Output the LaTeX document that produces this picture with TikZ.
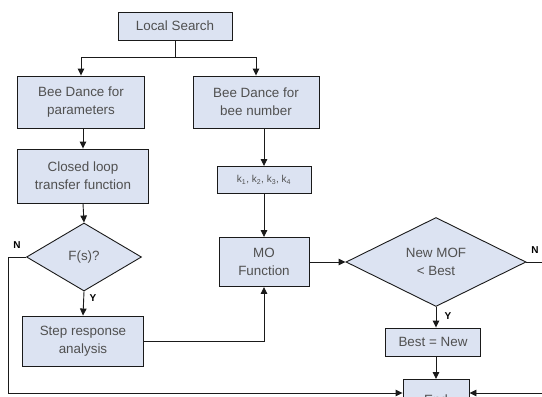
\documentclass[tikz,border=0pt]{standalone}
\usepackage{fontspec}
\setmainfont{Liberation Sans}
\usetikzlibrary{arrows.meta,shapes.geometric}
\definecolor{boxfill}{HTML}{DCE3F2}
\definecolor{txt}{HTML}{505050}
\definecolor{edge}{HTML}{1A1A1A}
\tikzset{
  x=1pt,y=-1pt,
  box/.style={draw=edge,fill=boxfill,line width=0.9pt,align=center,inner sep=0pt,
    text=txt,font=\fontsize{13.4}{18}\selectfont},
  dia/.style={draw=edge,fill=boxfill,line width=0.9pt,diamond,align=center,inner sep=0pt,
    text=txt,font=\fontsize{13.4}{18}\selectfont},
  conn/.style={draw=edge,line width=0.9pt,-{Triangle[length=7pt,width=6.5pt]}},
  line/.style={draw=edge,line width=0.9pt},
  lbl/.style={font=\bfseries\fontsize{10}{12}\selectfont,text=black,inner sep=0pt}
}
\begin{document}
\begin{tikzpicture}
\useasboundingbox (0,0) rectangle (542,397);
\clip (0,0) rectangle (542,397);
\node[box,minimum width=114pt,minimum height=28pt] (ls) at (175,26) {Local Search};
\node[box,minimum width=127pt,minimum height=52pt] (bdp) at (81,102) {Bee Dance for\\parameters};
\node[box,minimum width=126pt,minimum height=52pt] (bdb) at (256,102) {Bee Dance for\\bee number};
\node[box,minimum width=131pt,minimum height=54pt] (cl) at (83,176) {Closed loop\\transfer function};
\node[box,minimum width=94pt,minimum height=27pt,font=\fontsize{10}{12}\selectfont] (kk) at (264,180) {k\textsubscript{1}, k\textsubscript{2}, k\textsubscript{3}, k\textsubscript{4}};
\node[dia,minimum width=115pt,minimum height=68pt] (fs) at (84,257) {F(s)?};
\node[box,minimum width=90pt,minimum height=49pt] (mo) at (264,262) {MO\\Function};
\node[dia,minimum width=180pt,minimum height=89pt] (nm) at (436,262) {New MOF\\< Best};
\node[box,minimum width=121pt,minimum height=50pt] (sr) at (83,341) {Step response\\analysis};
\node[box,minimum width=95pt,minimum height=28pt] (bn) at (433,342) {Best = New};
\node[box,minimum width=66pt,minimum height=40pt,anchor=north] (end) at (436,379) {End};
\coordinate (br) at (175,57);
\coordinate (ll) at (8,257);
\coordinate (rr) at (560,262);
\path[line] (ls.south) -- (br);
\path[conn] (br) -| (bdp.north);
\path[conn] (br) -| (bdb.north);
\path[conn] (bdp.south -| cl.north) -- (cl.north);
\path[conn] (bdb.south -| kk.north) -- (kk.north);
\path[conn] (cl.south) -- (fs.north);
\path[conn] (kk.south) -- (mo.north);
\path[conn] (fs.south) -- (sr.north);
\path[conn] (sr.east) -| (mo.south);
\path[conn] (mo.east) -- (nm.west);
\path[conn] (nm.south) -- (bn.north -| nm.south);
\path[conn] (bn.south -| end.north) -- (end.north);
\path[conn] (fs.west) -- (ll) |- (end.west |- 0,393);
\path[conn] (nm.east) -- (rr) |- (end.east |- 0,393);
\node[lbl] at (17,245) {N};
\node[lbl] at (93,298) {Y};
\node[lbl] at (535,250) {N};
\node[lbl] at (448,316) {Y};
\end{tikzpicture}
\end{document}
